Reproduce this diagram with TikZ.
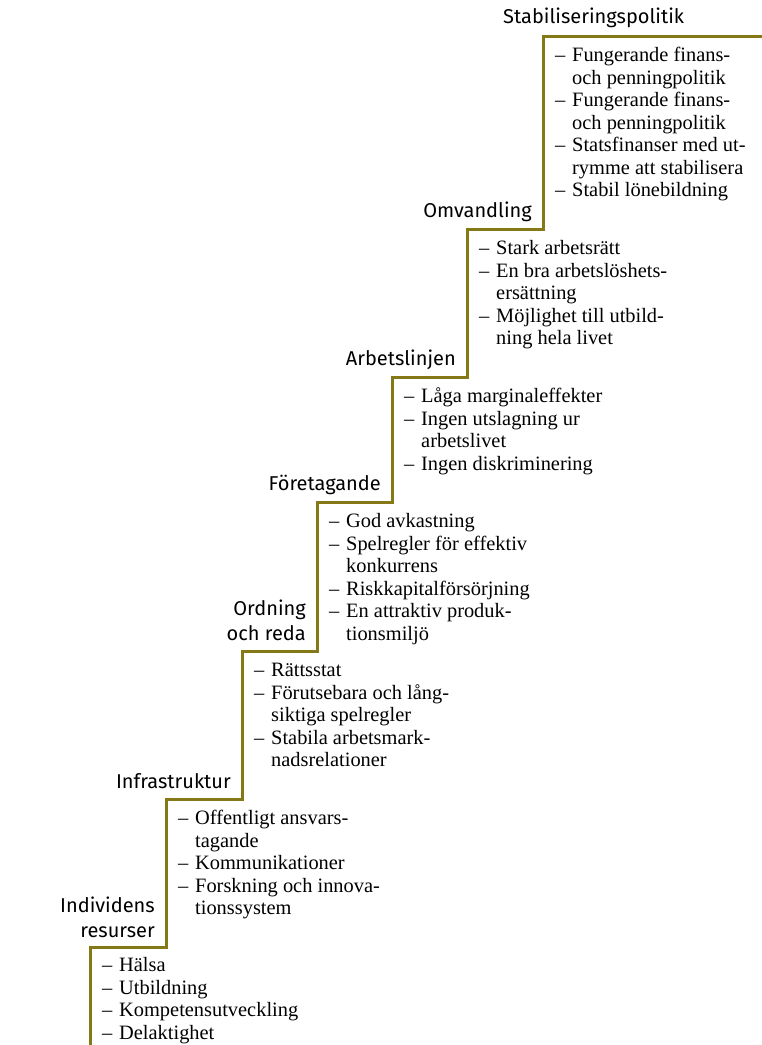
\documentclass[tikz,border=0pt]{standalone}
\usepackage{fontspec}
\setmainfont{Liberation Serif}
\newfontfamily\labfont{Fira Sans}
\definecolor{olive}{RGB}{132,121,22}
\newcommand{\itm}[1]{\makebox[17pt][l]{–}#1\strut}
\newcommand{\cnt}[1]{\hspace*{17pt}#1\strut}
\tikzset{
  stair/.style={draw=olive, line width=3pt, line join=miter},
  lab/.style={font=\labfont\fontsize{20}{25}\selectfont, inner sep=0pt, align=right, anchor=east},
  lst/.style={font=\fontsize{20.4}{22.5}\selectfont, inner sep=0pt, align=left, anchor=north west}
}
\begin{document}
\begin{tikzpicture}[x={(1pt,0)}, y={(0,-1pt)}]
\useasboundingbox (0,0) rectangle (761,1045);
% corners of the staircase
\coordinate (b0) at (90,1047);
\coordinate (c1) at (90,947);
\coordinate (c2) at (166,947);
\coordinate (c3) at (166,799);
\coordinate (c4) at (242,799);
\coordinate (c5) at (242,651);
\coordinate (c6) at (317,651);
\coordinate (c7) at (317,502);
\coordinate (c8) at (392,502);
\coordinate (c9) at (392,377);
\coordinate (c10) at (467,377);
\coordinate (c11) at (467,229);
\coordinate (c12) at (543,229);
\coordinate (c13) at (543,36);
\coordinate (e0) at (763,36);
\draw[stair] (b0) -- (c1) -- (c2) -- (c3) -- (c4) -- (c5) -- (c6) -- (c7) -- (c8) -- (c9) -- (c10) -- (c11) -- (c12) -- (c13) -- (e0);

% labels
\node[lab, anchor=west] (l7) at (503,18) {Stabiliseringspolitik};
\node[lab] (l6) at (532,212) {Omvandling};
\node[lab] (l5) at (456,360) {Arbetslinjen};
\node[lab] (l4) at (381,485) {Företagande};
\node[lab] (l3) at (306,620) {Ordning\\och reda};
\node[lab] (l2) at (231,781) {Infrastruktur};
\node[lab] (l1) at (155,917) {Individens\\resurser};

% lists
\node[lst] (t7) at (555,46) {\itm{Fungerande finans-}\\\cnt{och penningpolitik}\\\itm{Fungerande finans-}\\\cnt{och penningpolitik}\\\itm{Statsfinanser med ut-}\\\cnt{rymme att stabilisera}\\\itm{Stabil lönebildning}};
\node[lst] (t6) at (479,239) {\itm{Stark arbetsrätt}\\\itm{En bra arbetslöshets-}\\\cnt{ersättning}\\\itm{Möjlighet till utbild-}\\\cnt{ning hela livet}};
\node[lst] (t5) at (404,387) {\itm{Låga marginaleffekter}\\\itm{Ingen utslagning ur}\\\cnt{arbetslivet}\\\itm{Ingen diskriminering}};
\node[lst] (t4) at (329,512) {\itm{God avkastning}\\\itm{Spelregler för effektiv}\\\cnt{konkurrens}\\\itm{Riskkapitalförsörjning}\\\itm{En attraktiv produk-}\\\cnt{tionsmiljö}};
\node[lst] (t3) at (254,661) {\itm{Rättsstat}\\\itm{Förutsebara och lång-}\\\cnt{siktiga spelregler}\\\itm{Stabila arbetsmark-}\\\cnt{nadsrelationer}};
\node[lst] (t2) at (178,809) {\itm{Offentligt ansvars-}\\\cnt{tagande}\\\itm{Kommunikationer}\\\itm{Forskning och innova-}\\\cnt{tionssystem}};
\node[lst] (t1) at (102,956) {\itm{Hälsa}\\\itm{Utbildning}\\\itm{Kompetensutveckling}\\\itm{Delaktighet}};
\end{tikzpicture}
\end{document}
